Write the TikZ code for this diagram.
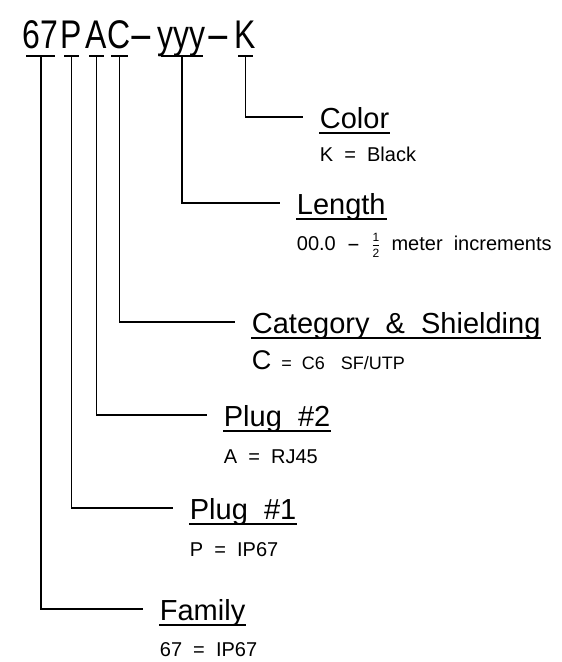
\documentclass[tikz,border=0pt]{standalone}
\usepackage{fontspec}
\setmainfont{Liberation Sans}
\newfontfamily\codefont[FakeStretch=0.8]{Liberation Sans}
\newfontfamily\headfont[WordSpace=1.8]{Liberation Sans}
\newfontfamily\notefont[WordSpace=2]{Liberation Sans}
\usetikzlibrary{calc}
\newcommand{\longdash}{\scalebox{2.4}[1]{-}}
\newcommand{\halfmark}{\ensuremath{\frac{\mbox{\fontsize{12}{12}\selectfont 1}}{\mbox{\fontsize{12}{12}\selectfont 2}}}}
\tikzset{
  code/.style={font=\codefont\fontsize{40}{40}\selectfont, inner sep=0pt, anchor=base west},
  head/.style={font=\headfont\fontsize{29}{29}\selectfont, inner sep=0pt, anchor=base west},
  note/.style={font=\notefont\fontsize{20}{20}\selectfont, inner sep=0pt, anchor=base west},
}

\begin{document}
\begin{tikzpicture}[x=1pt, y=-1pt, line width=1.8pt]
  \useasboundingbox (0,0) rectangle (562,662);
  % part number
  \node[code] (t67) at (22,48) {67};
  \node[code] (tP) at (60,48) {P};
  \node[code] (tA) at (85,48) {A};
  \node[code] (tC) at (107,48) {C};
  \node[code] (tD1) at (128,48) {\longdash};
  \node[code] (tY) at (157,48) {yyy};
  \node[code] (tD2) at (205,48) {\longdash};
  \node[code] (tK) at (234,48) {K};
  % fields
  \node[head] (hCol) at (319,128) {Color};
  \node[head] (hLen) at (296,214) {Length};
  \node[head] (hCat) at (251,333) {Category \& Shielding};
  \node[head] (hPlB) at (223,426) {Plug \#2};
  \node[head] (hPlA) at (189,519) {Plug \#1};
  \node[head] (hFam) at (159,620) {Family};
  \node[note] (sCol) at ([yshift=-33pt]hCol.base west) {K = Black};
  \node[note] (sLen) at ([yshift=-36pt]hLen.base west) {00.0 \scalebox{2}[1]{-} \halfmark\ meter increments};
  \node[note, font=\notefont\fontsize{18}{18}\selectfont] (sCat) at ([yshift=-36pt]hCat.base west)
       {{\fontsize{27}{27}\selectfont C} = C6\hspace{16pt}SF/UTP};
  \node[note] (sPlB) at ([yshift=-37pt]hPlB.base west) {A = RJ45};
  \node[note] (sPlA) at ([yshift=-37pt]hPlA.base west) {P = IP67};
  \node[note] (sFam) at ([yshift=-36pt]hFam.base west) {67 = IP67};
  % ticks and leaders
  \foreach \t/\h in {t67/hFam, tP/hPlA, tA/hPlB, tC/hCat, tY/hLen, tK/hCol} {
    \draw ([shift={(4pt,-8pt)}]\t.base west) -- ([shift={(-4pt,-8pt)}]\t.base east);
    \draw ([yshift=-8pt]\t.base) |- ([shift={(-16pt,11pt)}]\h.base west);
  }
  \foreach \h in {hCol, hLen, hCat, hPlB, hPlA, hFam}
    \draw ([yshift=-5pt]\h.base west) -- ([yshift=-5pt]\h.base east);
\end{tikzpicture}
\end{document}
